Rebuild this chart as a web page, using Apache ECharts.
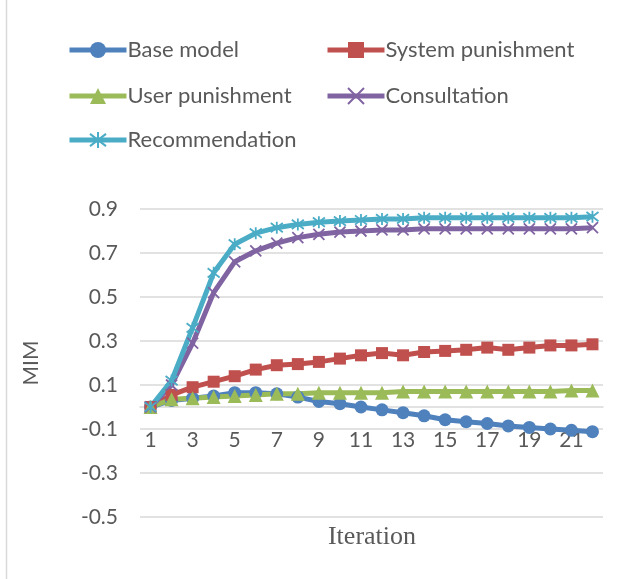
<!DOCTYPE html>
<html><head><meta charset="utf-8">
<script src="https://cdn.jsdelivr.net/npm/echarts@6/dist/echarts.min.js"></script>
<style>html,body{margin:0;padding:0;background:#fff}#c{width:628px;height:579px}</style>
</head><body><div id="c"></div>
<script>
const categories = ['1','2','3','4','5','6','7','8','9','10','11','12','13','14','15','16','17','18','19','20','21','22'];
const baseModel = [0, 0.03, 0.04, 0.05, 0.065, 0.065, 0.06, 0.045, 0.025, 0.015, 0.0, -0.013, -0.026, -0.04, -0.058, -0.067, -0.075, -0.086, -0.093, -0.1, -0.106, -0.112];
const systemPunishment = [0, 0.055, 0.09, 0.115, 0.14, 0.17, 0.19, 0.195, 0.205, 0.22, 0.235, 0.245, 0.235, 0.25, 0.255, 0.26, 0.27, 0.26, 0.27, 0.28, 0.28, 0.285];
const userPunishment = [0, 0.035, 0.04, 0.045, 0.05, 0.055, 0.06, 0.06, 0.065, 0.065, 0.065, 0.065, 0.07, 0.07, 0.07, 0.07, 0.07, 0.07, 0.07, 0.07, 0.075, 0.075];
const consultation = [0, 0.10, 0.29, 0.52, 0.66, 0.71, 0.745, 0.77, 0.785, 0.795, 0.80, 0.805, 0.805, 0.81, 0.81, 0.81, 0.81, 0.81, 0.81, 0.81, 0.81, 0.815];
const recommendation = [0, 0.12, 0.36, 0.61, 0.74, 0.79, 0.815, 0.83, 0.84, 0.845, 0.85, 0.855, 0.855, 0.86, 0.86, 0.86, 0.86, 0.86, 0.86, 0.86, 0.86, 0.865];
const seriesNames = ['Base model','System punishment','User punishment','Consultation','Recommendation'];
const yTicks = [-0.5, -0.3, -0.1, 0.1, 0.3, 0.5, 0.7, 0.9];

const colors = ['#4F81BD','#C0504D','#9BBB59','#8064A2','#4BACC6'];
const font = 'Lato, "Open Sans", sans-serif';
const txt = '#595959';
const xPath = 'path://M0,0L10,10M10,0L0,10';
const starPath = 'path://M0,0L10,10M10,0L0,10M5,-1.5L5,11.5';

const gridTop = 209, gridBottom = 62, chartH = 579;
const yMin = yTicks[0], yMax = yTicks[yTicks.length-1];
const plotH = chartH - gridTop - gridBottom;
const zeroOffset = -plotH * (0 - yMin) / (yMax - yMin);

function mk(name, data, color, symbol, size, stroke) {
  return {
    name, type: 'line', data, smooth: false,
    symbol, symbolSize: size,
    lineStyle: { color, width: 5 },
    itemStyle: stroke ? { color: 'none', borderColor: color, borderWidth: 1.8 } : { color, borderColor: color, borderWidth: 0 },
    emphasis: { disabled: true }
  };
}
const series = [
  mk(seriesNames[0], baseModel, colors[0], 'circle', 13, false),
  mk(seriesNames[1], systemPunishment, colors[1], 'rect', 12, false),
  mk(seriesNames[2], userPunishment, colors[2], 'triangle', 14, false),
  mk(seriesNames[3], consultation, colors[3], xPath, 11, true),
  mk(seriesNames[4], recommendation, colors[4], starPath, 12, true)
];

const legendPos = [[62,33],[320,33],[62,79],[320,79],[62,123]];
const legends = seriesNames.map((n,i)=>({
  data:[n], left: legendPos[i][0], top: legendPos[i][1],
  itemWidth: 57, itemHeight: 20, itemGap: 4,
  lineStyle: { width: 5 },
  textStyle:{ fontFamily: font, fontSize: 22, lineHeight: 24, color: txt, padding:[0,0,0,-4] },
  selectedMode: false
}));

const chart = echarts.init(document.getElementById('c'), null, {renderer:'canvas'});
chart.setOption({
  animation: false,
  backgroundColor: '#fff',
  color: colors,
  legend: legends,
  grid: { left: 140, right: 25, top: gridTop, bottom: gridBottom, containLabel: false },
  xAxis: {
    type: 'category', data: categories, boundaryGap: true,
    position: 'bottom', offset: zeroOffset,
    axisLine: { onZero: false, lineStyle: { color: '#D9D9D9', width: 1.5 } },
    axisTick: { show: false },
    axisLabel: { interval: 1, color: txt, fontFamily: font, fontSize: 21, margin: 23 },
    splitLine: { show: false }
  },
  yAxis: {
    type: 'value', min: yMin, max: yMax, interval: 0.2,
    axisLine: { show: false }, axisTick: { show: false },
    axisLabel: { color: txt, fontFamily: font, fontSize: 21, margin: 22,
      formatter: v => (Math.round(v*10)/10).toFixed(1) },
    splitLine: { lineStyle: { color: '#D9D9D9', width: 1.5 } },
    name: 'MIM', nameLocation: 'middle', nameGap: 98, nameRotate: 90,
    nameTextStyle: { color: txt, fontFamily: font, fontSize: 21 }
  },
  graphic: [
    { type: 'text', x: 372, y: 537, style: { text: 'Iteration', font: '26px "Liberation Serif", "Times New Roman", serif', fill: txt, align: 'center', verticalAlign: 'middle' } },
    { type: 'line', shape: { x1: 6.5, y1: 0, x2: 6.5, y2: 579 }, style: { stroke: '#D9D9D9', lineWidth: 1.5 } }
  ],
  series
});
</script></body></html>
